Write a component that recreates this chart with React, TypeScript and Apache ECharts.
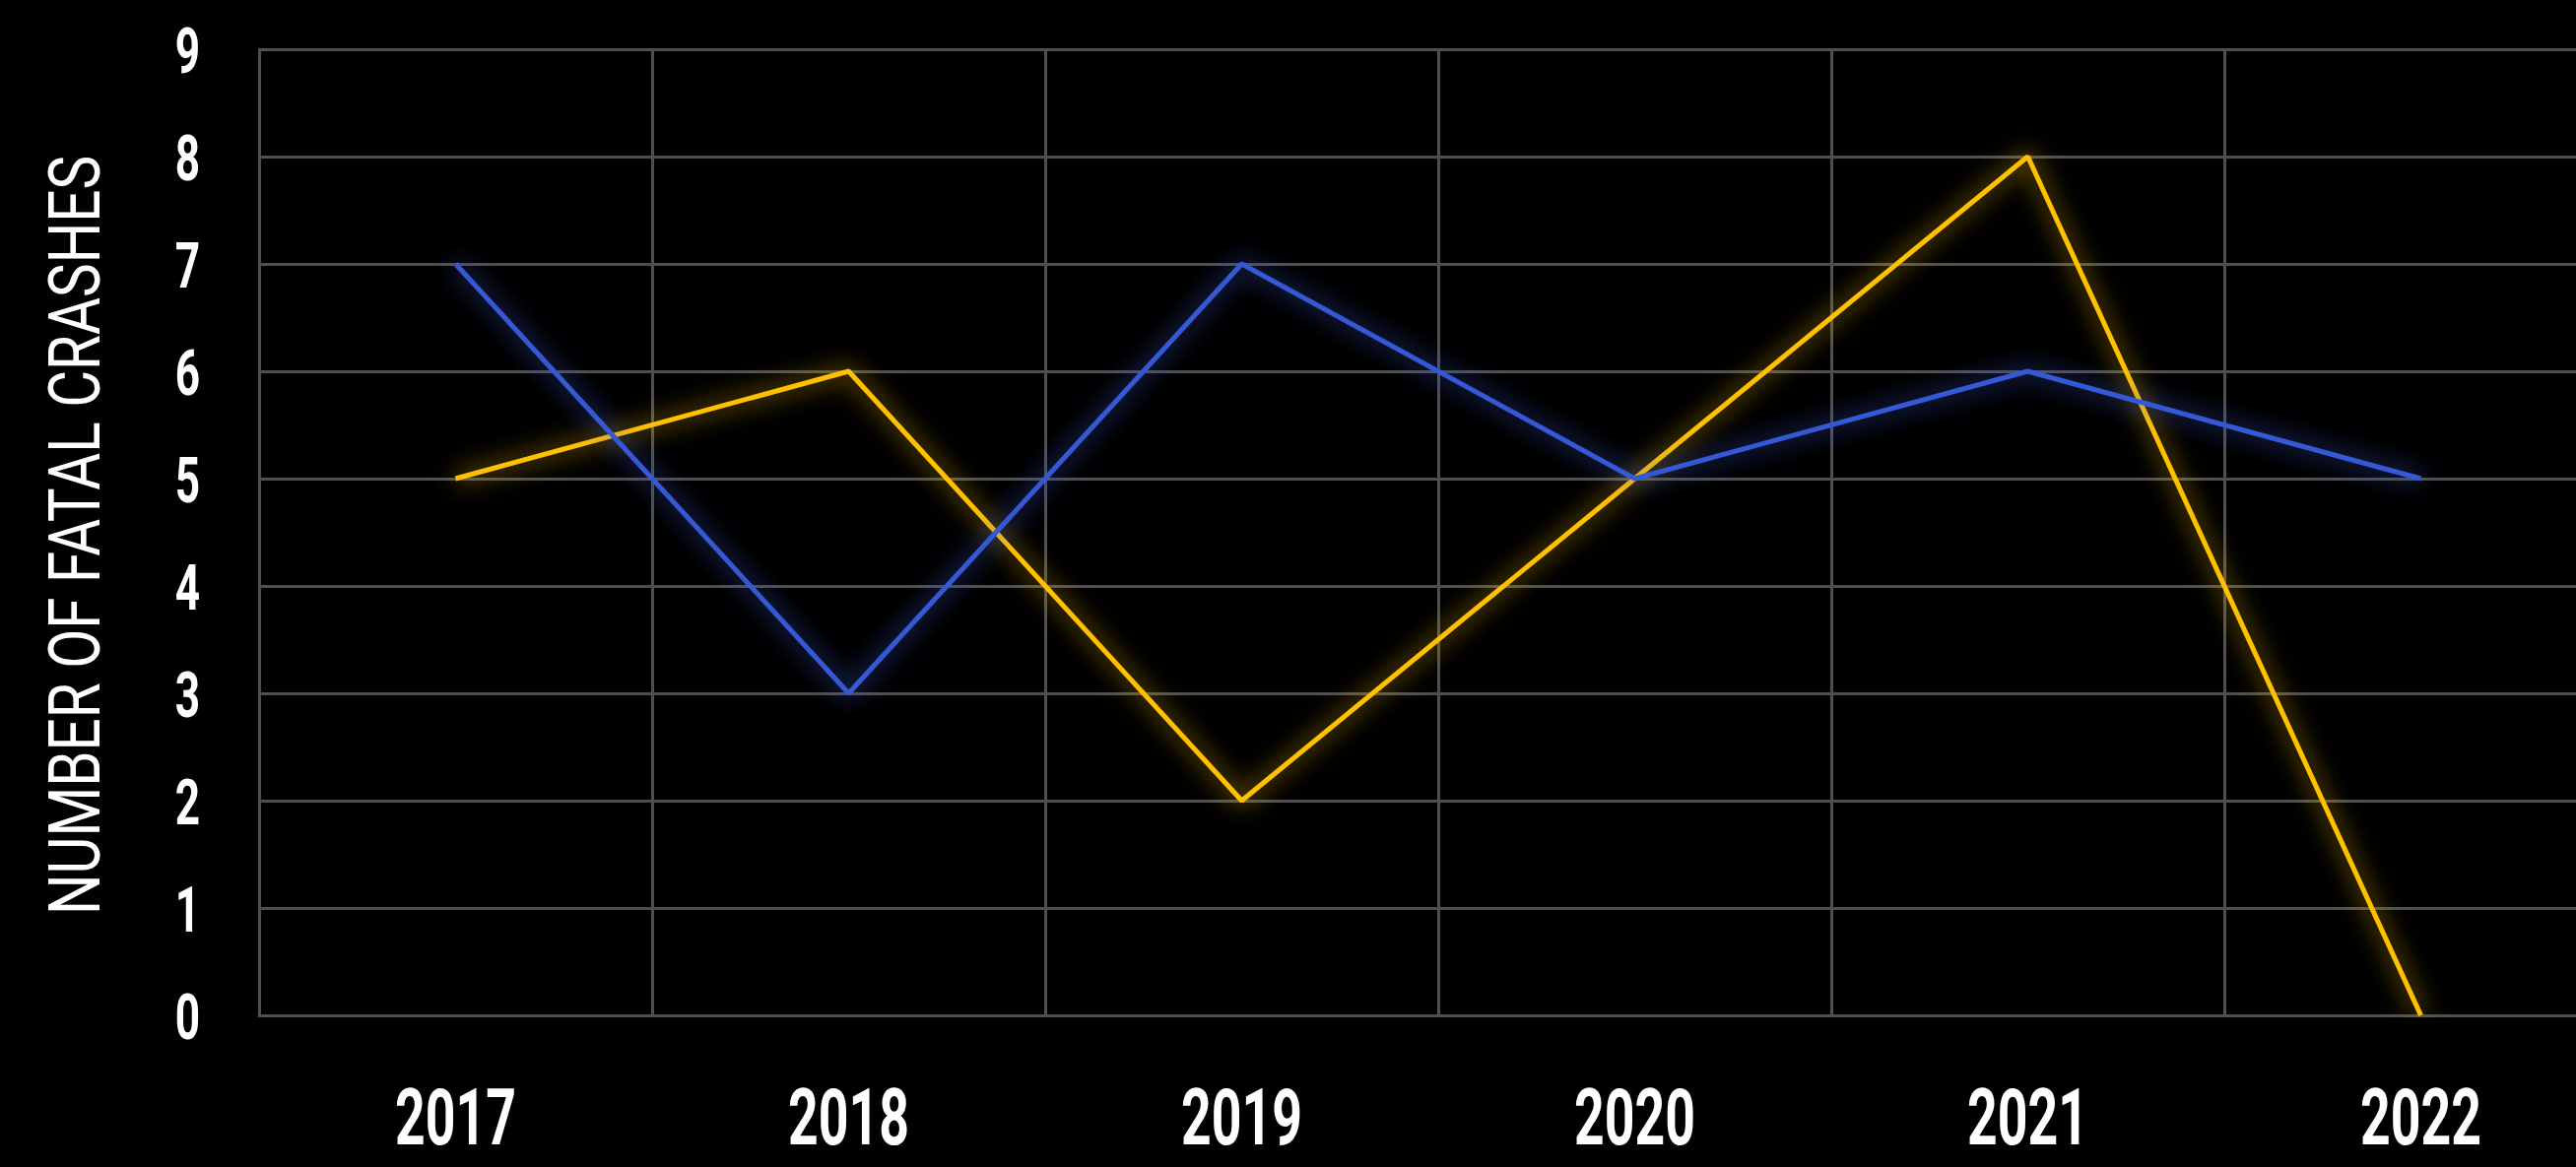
import React, { useEffect, useRef } from "react";
import * as echarts from "echarts";

const years = ["2017", "2018", "2019", "2020", "2021", "2022"];
const blueSeries = [7, 3, 7, 5, 6, 5];
const yellowSeries = [5, 6, 2, 5, 8, 0];
const yTickValues = [0, 1, 2, 3, 4, 5, 6, 7, 8, 9];
const yAxisTitle = "NUMBER OF FATAL CRASHES";

const FONT = "Roboto, 'DejaVu Sans Condensed', sans-serif";
const GRID_COLOR = "#4f4f4f";
const YELLOW = "#FFC000";
const BLUE = "#3559D6";

export default function App() {
  const ref = useRef<HTMLDivElement>(null);
  useEffect(() => {
    if (!ref.current) return;
    const chart = echarts.init(ref.current, null, { renderer: "svg" });
    chart.setOption({
      animation: false,
      backgroundColor: "#000000",
      grid: { left: 263, right: 0, top: 50, bottom: 154, containLabel: false },
      xAxis: {
        type: "category",
        data: years,
        boundaryGap: true,
        axisLine: { show: true, lineStyle: { color: GRID_COLOR, width: 3 } },
        axisTick: { show: false },
        splitLine: { show: true, lineStyle: { color: GRID_COLOR, width: 3 } },
        axisLabel: { show: false },
      },
      yAxis: {
        type: "value",
        min: yTickValues[0],
        max: yTickValues[yTickValues.length - 1],
        interval: 1,
        axisLine: { show: true, lineStyle: { color: GRID_COLOR, width: 3 } },
        axisTick: { show: false },
        splitLine: { show: true, lineStyle: { color: GRID_COLOR, width: 3 } },
        axisLabel: { show: false },
      },
      series: [
        {
          name: "Series 2",
          type: "line",
          data: yellowSeries,
          showSymbol: false,
          symbol: "none",
          lineStyle: {
            color: YELLOW,
            width: 5,
            shadowColor: "rgba(255,192,0,1)",
            shadowBlur: 24,
          },
          itemStyle: { color: YELLOW },
          z: 3,
        },
        {
          name: "Series 1",
          type: "line",
          data: blueSeries,
          showSymbol: false,
          symbol: "none",
          lineStyle: {
            color: BLUE,
            width: 5,
            shadowColor: "rgba(60,95,230,1)",
            shadowBlur: 24,
          },
          itemStyle: { color: BLUE },
          z: 4,
        },
      ],
    });

    const toNum = (r: any): number => (Array.isArray(r) ? r[0] : r);
    const yPix = (v: number): number => {
      const r: any = chart.convertToPixel({ yAxisIndex: 0 }, v);
      return Array.isArray(r) ? r[1] : r;
    };

    // Condensed-looking labels: real text, placed through the chart's own scales
    const labelEls: any[] = [];
    const baseY = yPix(yTickValues[0]);
    years.forEach((yr) => {
      const px = toNum(chart.convertToPixel({ xAxisIndex: 0 }, yr));
      labelEls.push({
        type: "text",
        x: px,
        y: baseY + 104,
        scaleX: 0.67,
        style: {
          text: yr,
          fill: "#ffffff",
          font: `bold 80px ${FONT}`,
          lineHeight: 60,
          align: "center",
          verticalAlign: "middle",
        },
        silent: true,
      });
    });
    yTickValues.forEach((v) => {
      const py = yPix(v);
      labelEls.push({
        type: "text",
        x: 203,
        y: py + 2,
        scaleX: 0.68,
        style: {
          text: String(v),
          fill: "#ffffff",
          font: `bold 65px ${FONT}`,
          lineHeight: 52,
          align: "right",
          verticalAlign: "middle",
        },
        silent: true,
      });
    });
    const topY = yPix(yTickValues[yTickValues.length - 1]);
    labelEls.push({
      type: "text",
      x: 76,
      y: (topY + baseY) / 2 + 3,
      rotation: Math.PI / 2,
      scaleX: 0.81,
      style: {
        text: yAxisTitle,
        fill: "#ffffff",
        font: `normal 72px ${FONT}`,
        align: "center",
        verticalAlign: "middle",
      },
      silent: true,
    });
    chart.setOption({ graphic: { elements: labelEls } });

    return () => chart.dispose();
  }, []);
  return (
    <div
      ref={ref}
      style={{ position: "fixed", left: 0, top: 0, width: 2657, height: 1185, background: "#000" }}
    />
  );
}
